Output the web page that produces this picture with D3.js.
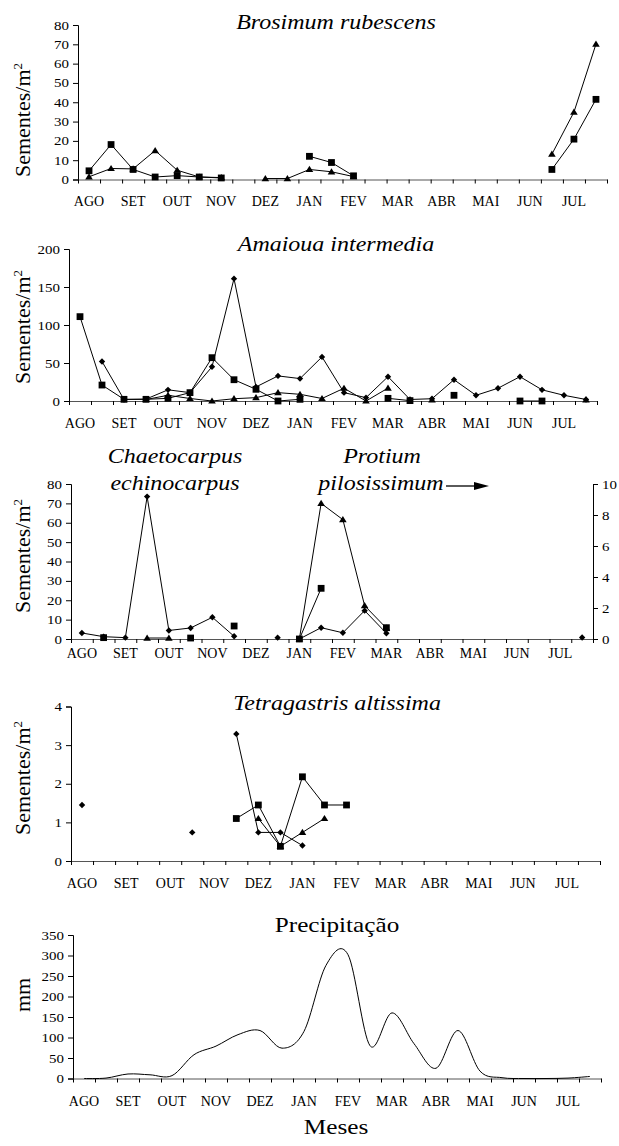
<!DOCTYPE html>
<html><head><meta charset="utf-8">
<script src="https://cdn.jsdelivr.net/npm/d3@7"></script>
<style>
body{margin:0;background:#fff;}
svg{display:block;}
text{font-family:"Liberation Serif","Times New Roman",serif;fill:#000;}
</style>
</head><body>
<svg id="c" width="619" height="1146"></svg>
<script>
// ---------- DATA ----------
const months = ["AGO","SET","OUT","NOV","DEZ","JAN","FEV","MAR","ABR","MAI","JUN","JUL"];
const N = 24; // biweekly periods
const _ = null;

// Brosimum rubescens
const brosSquares   = [4.5,18.1,5.2,1.3,2.0,1.3,0.8,_,_,_,12,8.8,1.9,_,_,_,_,_,_,_,_,5.2,20.9,41.5];
const brosTriangles = [1.4,5.7,5.5,15,4.8,1.3,1.0,_,0.5,0.5,5.2,4,1.5,_,_,_,_,_,_,_,_,13.1,34.9,70.1];
const brosTicks = [0,10,20,30,40,50,60,70,80];

// Amaioua intermedia
const amaiDiamonds  = [_,52,2,2.5,14.7,11,45,161,18.5,33,29.5,58,11,4.4,32,2,3,28,7.5,16.8,32,14.7,7.5,2];
const amaiSquares   = [111,21,2.2,2.2,3.5,11,57,28,15.4,0,2.2,_,_,_,3.5,0.5,_,7.5,_,_,0,0,_,_];
const amaiTriangles = [_,_,_,2,7.5,3.3,0,3,4.4,11,8.8,3.3,16.8,0,17,_,1.5,_,_,_,_,_,_,1.5];
const amaiTicks = [0,50,100,150,200];

// Chaetocarpus echinocarpus (left axis)
const chaeDiamonds  = [3.1,1.2,0.7,73.5,4.4,5.7,11.2,1.4,_,0.7,_,_,_,_,_,_,_,_,_,_,_,_,_,_];
const chaeSquares   = [_,0.7,_,_,_,0.5,_,6.7,_,_,_,_,_,_,_,_,_,_,_,_,_,_,_,_];
const chaeTriangles = [_,_,_,0.5,0.5,_,_,_,_,_,_,_,_,_,_,_,_,_,_,_,_,_,_,_];
const chaeTicks = [0,10,20,30,40,50,60,70,80];
// Protium pilosissimum (right axis)
const protDiamonds  = [_,_,_,_,_,_,_,_,_,_,0,0.73,0.4,1.83,0.37,_,_,_,_,_,_,_,_,0.1];
const protSquares   = [_,_,_,_,_,_,_,_,_,_,0,3.27,_,_,0.73,_,_,_,_,_,_,_,_,_];
const protTriangles = [_,_,_,_,_,_,_,_,_,_,0,8.75,7.7,2.15,0.7,_,_,_,_,_,_,_,_,_];
const protTicks = [0,2,4,6,8,10];

// Tetragastris altissima
const tetrDiamonds  = [1.45,_,_,_,_,0.74,_,3.29,0.74,0.74,0.4,_,_,_,_,_,_,_,_,_,_,_,_,_];
const tetrSquares   = [_,_,_,_,_,_,_,1.1,1.45,0.38,2.18,1.45,1.45,_,_,_,_,_,_,_,_,_,_,_];
const tetrTriangles = [_,_,_,_,_,_,_,_,1.1,0.38,0.74,1.1,_,_,_,_,_,_,_,_,_,_,_,_];
const tetrTicks = [0,1,2,3,4];

// Precipitação (mm)
const precip = [0,1,11,9,7,58,79,107,117,74,115,276,302,80,160,85,25,117,18,2,0,0,1,5];
const precTicks = [0,50,100,150,200,250,300,350];

// ---------- DRAWING ----------
const svg = d3.select("#c");
const FONT_TICK = 13, SX_TICK = 1.15;
const FONT_MONTH = 14;
const FONT_TITLE = 20, SX_TITLE = 1.2;
const FONT_YLAB = 22;

function txt(g, x, y, s, size, anchor, sx, style){
  const t = g.append("text")
    .attr("transform", `translate(${x},${y}) scale(${sx||1},1)`)
    .attr("text-anchor", anchor||"middle")
    .style("font-size", size+"px")
    .text(s);
  if (style) t.style("font-style", style);
  return t;
}

function ylabel(cy, html){
  svg.append("text").attr("transform",`translate(30,${cy}) rotate(-90)`).attr("text-anchor","middle")
    .style("font-size",FONT_YLAB+"px").html(html);
}

const shapes = {
  diamond: "M0,-3.2L3.2,0L0,3.2L-3.2,0Z",
  square: "M-3.4,-3.4H3.4V3.4H-3.4Z",
  triangle: "M0,-3.6L3.8,2.6L-3.8,2.6Z"
};

function panel(cfg){
  const g = svg.append("g");
  const x = d3.scaleLinear().domain([0,N]).range([cfg.xl, cfg.xr]);
  const y = d3.scaleLinear().domain([0,cfg.yMax]).range([cfg.y0, cfg.yTop]);
  const ya = g.append("g").attr("transform",`translate(${cfg.xl},0)`)
    .call(d3.axisLeft(y).tickValues(cfg.ticks).tickSize(5).tickFormat(""));
  ya.select(".domain").attr("stroke","#000");
  cfg.ticks.forEach(v => {
    txt(g, cfg.xl-9, y(v)+4.5, String(v), FONT_TICK, "end", SX_TICK);
  });
  const xa = g.append("g").attr("transform",`translate(0,${cfg.y0})`)
    .call(d3.axisBottom(x).tickValues(d3.range(0,N+1)).tickSize(4).tickSizeOuter(0).tickFormat(""));
  xa.select(".domain").attr("stroke","#555");
  months.forEach((m,i) => {
    txt(g, x(2*i+0.5), cfg.monthY, m, FONT_MONTH, "middle", 1);
  });
  let y2 = null;
  if (cfg.right){
    y2 = d3.scaleLinear().domain([0,cfg.right.max]).range([cfg.y0, cfg.yTop]);
    g.append("g").attr("transform",`translate(${cfg.xr},0)`)
      .call(d3.axisRight(y2).tickValues(cfg.right.ticks).tickSize(5).tickFormat(""))
      .select(".domain").attr("stroke","#000");
    cfg.right.ticks.forEach(v => {
      txt(g, cfg.xr+9, y2(v)+4.5, String(v), FONT_TICK, "start", SX_TICK);
    });
  }
  cfg.series.forEach(s => {
    const ys = s.right ? y2 : y;
    const pts = s.data.map((v,i)=>({i,v}));
    const line = d3.line().defined(d=>d.v!==null)
      .x(d=>x(d.i+0.5)).y(d=>ys(d.v));
    if (s.curve) line.curve(s.curve);
    g.append("path").attr("d", line(pts)).attr("fill","none")
      .attr("stroke","#000").attr("stroke-width",1);
    if (s.shape){
      g.selectAll(null).data(pts.filter(d=>d.v!==null)).enter().append("path")
        .attr("d", shapes[s.shape])
        .attr("transform", d=>`translate(${x(d.i+0.5)},${ys(d.v)})`)
        .attr("fill","#000");
    }
  });
  return {g,x,y};
}

const SEM = 'Sementes/m<tspan dy="-8" style="font-size:13px">2</tspan>';

// Panel 1
panel({xl:78, xr:607, y0:179.5, yTop:25, yMax:80, ticks:brosTicks, monthY:206,
  series:[{data:brosSquares, shape:"square"},{data:brosTriangles, shape:"triangle"}]});
txt(svg, 336, 29, "Brosimum rubescens", FONT_TITLE, "middle", SX_TITLE, "italic");
ylabel(120, SEM);

// Panel 2
panel({xl:69, xr:597, y0:401, yTop:249, yMax:200, ticks:amaiTicks, monthY:428,
  series:[{data:amaiDiamonds, shape:"diamond"},{data:amaiSquares, shape:"square"},{data:amaiTriangles, shape:"triangle"}]});
txt(svg, 336, 251, "Amaioua intermedia", FONT_TITLE, "middle", SX_TITLE, "italic");
ylabel(327, SEM);

// Panel 3
panel({xl:71, xr:593, y0:639, yTop:484, yMax:80, ticks:chaeTicks, monthY:658,
  right:{max:10, ticks:protTicks},
  series:[
    {data:chaeDiamonds, shape:"diamond"},{data:chaeSquares, shape:"square"},{data:chaeTriangles, shape:"triangle"},
    {data:protDiamonds, shape:"diamond", right:true},{data:protSquares, shape:"square", right:true},{data:protTriangles, shape:"triangle", right:true}
  ]});
txt(svg, 175, 463, "Chaetocarpus", FONT_TITLE, "middle", SX_TITLE, "italic");
txt(svg, 175, 490, "echinocarpus", FONT_TITLE, "middle", SX_TITLE, "italic");
txt(svg, 382, 463, "Protium", FONT_TITLE, "middle", SX_TITLE, "italic");
txt(svg, 381, 490, "pilosissimum", FONT_TITLE, "middle", SX_TITLE, "italic");
svg.append("line").attr("x1",446).attr("x2",476).attr("y1",486).attr("y2",486).attr("stroke","#000").attr("stroke-width",1.3);
svg.append("path").attr("d","M474,482L489,486L474,490Z").attr("fill","#000");
ylabel(556, SEM);

// Panel 4
panel({xl:71, xr:600, y0:861, yTop:706.5, yMax:4, ticks:tetrTicks, monthY:888,
  series:[{data:tetrDiamonds, shape:"diamond"},{data:tetrSquares, shape:"square"},{data:tetrTriangles, shape:"triangle"}]});
txt(svg, 337, 710, "Tetragastris altissima", FONT_TITLE, "middle", SX_TITLE, "italic");
ylabel(778, SEM);

// Panel 5
panel({xl:73, xr:601, y0:1078.5, yTop:935, yMax:350, ticks:precTicks, monthY:1106,
  series:[{data:precip, curve:d3.curveCatmullRom.alpha(0)}]});
txt(svg, 337, 932, "Precipitação", 21, "middle", SX_TITLE);
ylabel(995, "mm");
txt(svg, 336, 1134, "Meses", 22, "middle", 1.15);
</script>
</body></html>
